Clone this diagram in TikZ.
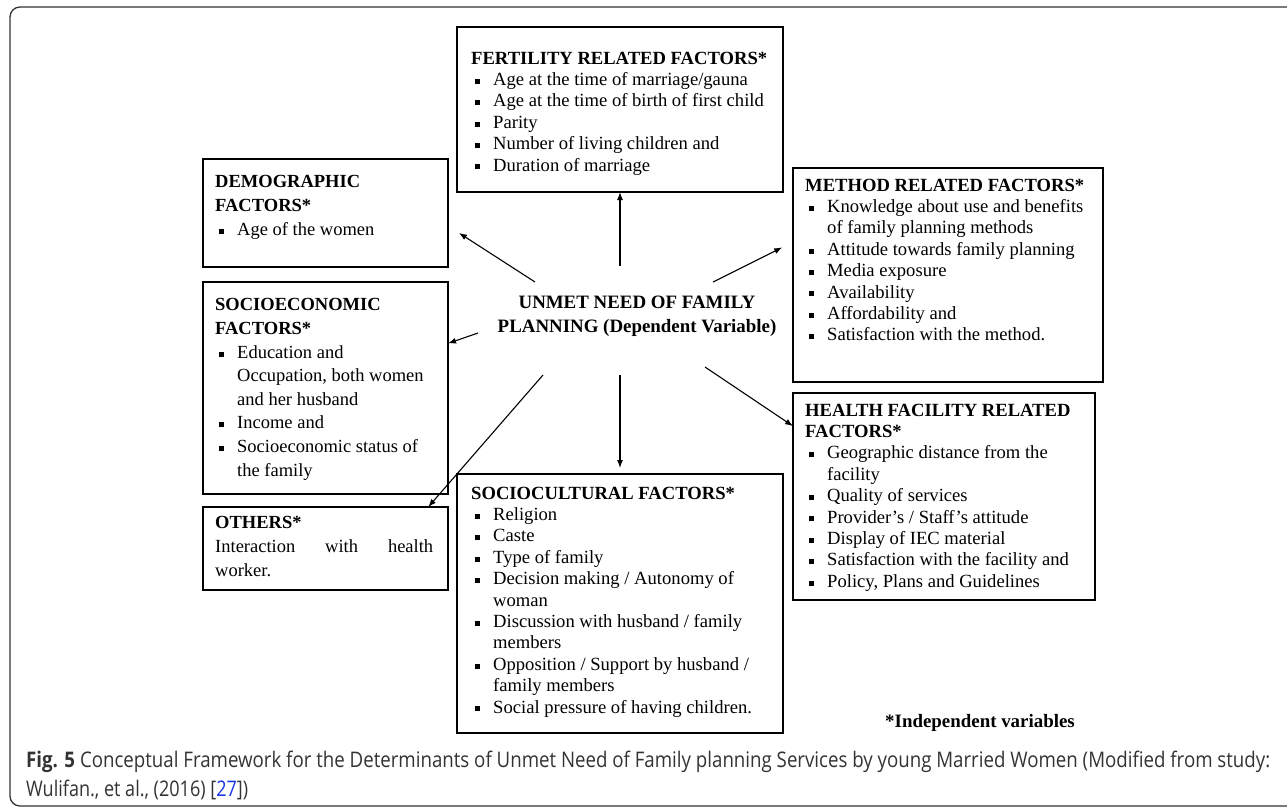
\documentclass[tikz,border=0pt]{standalone}
\usepackage{fontspec}
\setmainfont{Liberation Serif}
\newfontfamily\capfont{Open Sans}
\usepackage{graphicx}
\usetikzlibrary{positioning, arrows.meta}
\definecolor{capgray}{HTML}{333333}
\definecolor{refblue}{HTML}{1A35E8}
\newcommand*{\bl}{\makebox[22pt][l]{\hspace{4pt}\rule[1.6pt]{5pt}{5pt}}}
\newcommand*{\bi}{\hspace*{22pt}}

\begin{document}
\begin{tikzpicture}[x=1pt, y=-1pt,
    fbox/.style={draw, line width=2.6pt, inner sep=0pt, outer sep=0pt, anchor=north west},
    txt/.style={inner sep=0pt, align=left, font=\fontsize{18.6}{21.4}\selectfont},
    ltxt/.style={txt, font=\fontsize{18.5}{23.6}\selectfont},
    arr/.style={-{Latex[length=8pt, width=6pt]}, line width=1.1pt}]
        \useasboundingbox (0, 0) rectangle (1287, 807);
        \draw[line width=1.3pt, rounded corners=10pt, black!80](10, 7) rectangle (1300, 806);
        % boxes
        \node[fbox, minimum width=326pt, minimum height=165pt](fert) at (457, 27){};
        \node[fbox, minimum width=245pt, minimum height=108pt](dem) at (203, 159){};
        \node[fbox, minimum width=245pt, minimum height=212pt](soc) at (203, 282){};
        \node[fbox, minimum width=245pt, minimum height=83pt](oth) at (203, 507){};
        \node[fbox, minimum width=310pt, minimum height=214pt](meth) at (793, 168){};
        \node[fbox, minimum width=302pt, minimum height=207pt](hlth) at (793, 393){};
        \node[fbox, minimum width=326pt, minimum height=259pt](scul) at (457, 474){};
        % texts
        \node[txt, below right=24.5pt and 14pt of fert.north west](fert-t){\textbf{FERTILITY RELATED FACTORS*}\\
            \bl Age at the time of marriage/gauna\\
            \bl Age at the time of birth of first child\\
            \bl Parity\\
            \bl Number of living children and\\
            \bl Duration of marriage};
        \node[ltxt, below right=16.5pt and 12pt of dem.north west](dem-t){\textbf{DEMOGRAPHIC}\\
            \textbf{FACTORS*}\\
            \bl Age of the women};
        \node[ltxt, below right=16.5pt and 12pt of soc.north west](soc-t){\textbf{SOCIOECONOMIC}\\
            \textbf{FACTORS*}\\
            \bl Education and\\
            \bi Occupation, both women\\
            \bi and her husband\\
            \bl Income and\\
            \bl Socioeconomic status of\\
            \bi the family};
        \node[ltxt, below right=9.5pt and 12pt of oth.north west](oth-t){\textbf{OTHERS*}\\
            \makebox[218pt][s]{Interaction with health}\\
            worker.};
        \node[txt, below right=10.5pt and 12pt of meth.north west](meth-t){\textbf{METHOD RELATED FACTORS*}\\
            \bl Knowledge about use and benefits\\
            \bi of family planning methods\\
            \bl Attitude towards family planning\\
            \bl Media exposure\\
            \bl Availability\\
            \bl Affordability and\\
            \bl Satisfaction with the method.};
        \node[txt, below right=10.5pt and 12pt of hlth.north west](hlth-t){\textbf{HEALTH FACILITY RELATED}\\
            \textbf{FACTORS*}\\
            \bl Geographic distance from the\\
            \bi facility\\
            \bl Quality of services\\
            \bl Provider’s / Staff’s attitude\\
            \bl Display of IEC material\\
            \bl Satisfaction with the facility and\\
            \bl Policy, Plans and Guidelines};
        \node[txt, below right=12.5pt and 14pt of scul.north west](scul-t){\textbf{SOCIOCULTURAL FACTORS*}\\
            \bl Religion\\
            \bl Caste\\
            \bl Type of family\\
            \bl Decision making / Autonomy of\\
            \bi woman\\
            \bl Discussion with husband / family\\
            \bi members\\
            \bl Opposition / Support by husband /\\
            \bi family members\\
            \bl Social pressure of having children.};
        \node[font=\bfseries\fontsize{18.9}{24}\selectfont, align=center](need) at (637, 316){UNMET NEED OF FAMILY\\PLANNING (Dependent Variable)};
        \node[font=\bfseries\fontsize{18.9}{21}\selectfont](indep) at (980, 723){*Independent variables};
        % arrows out of the centre
        \coordinate(n-up) at (fert.south |- 0, 266);
        \coordinate(n-ul) at (535, 282);
        \coordinate(n-ur) at (713, 282);
        \coordinate(n-l) at (478, 333);
        \coordinate(n-dn) at (scul.north |- 0, 375);
        \coordinate(n-dr) at (705, 367);
        \coordinate(n-dl) at (543, 375);
        \draw[arr](n-up)--(fert.south);
        \draw[arr, shorten >=13pt](n-ul)--(dem.-6);
        \draw[arr, shorten >=12pt](n-ur)--(meth.168);
        \draw[arr](n-l)--(soc.20);
        \draw[arr, shorten >=6pt](n-dn)--(scul.north);
        \draw[arr](n-dr)--(hlth.155);
        \draw[arr](n-dl)--(oth.22);
        % caption
        \node[anchor=west, inner sep=0pt, text=capgray, font=\capfont\fontsize{21.5}{28}\selectfont](cap1) at (26, 762){\resizebox{1244pt}{\height}{\textbf{Fig. 5} Conceptual Framework for the Determinants of Unmet Need of Family planning Services by young Married Women (Modified from study:}};
        \node[anchor=west, inner sep=0pt, text=capgray, font=\capfont\fontsize{21.5}{28}\selectfont](cap2) at (26, 790){\resizebox{222pt}{\height}{Wulifan., et al., (2016) [{\color{refblue}27}])}};
    \end{tikzpicture}
\end{document}
